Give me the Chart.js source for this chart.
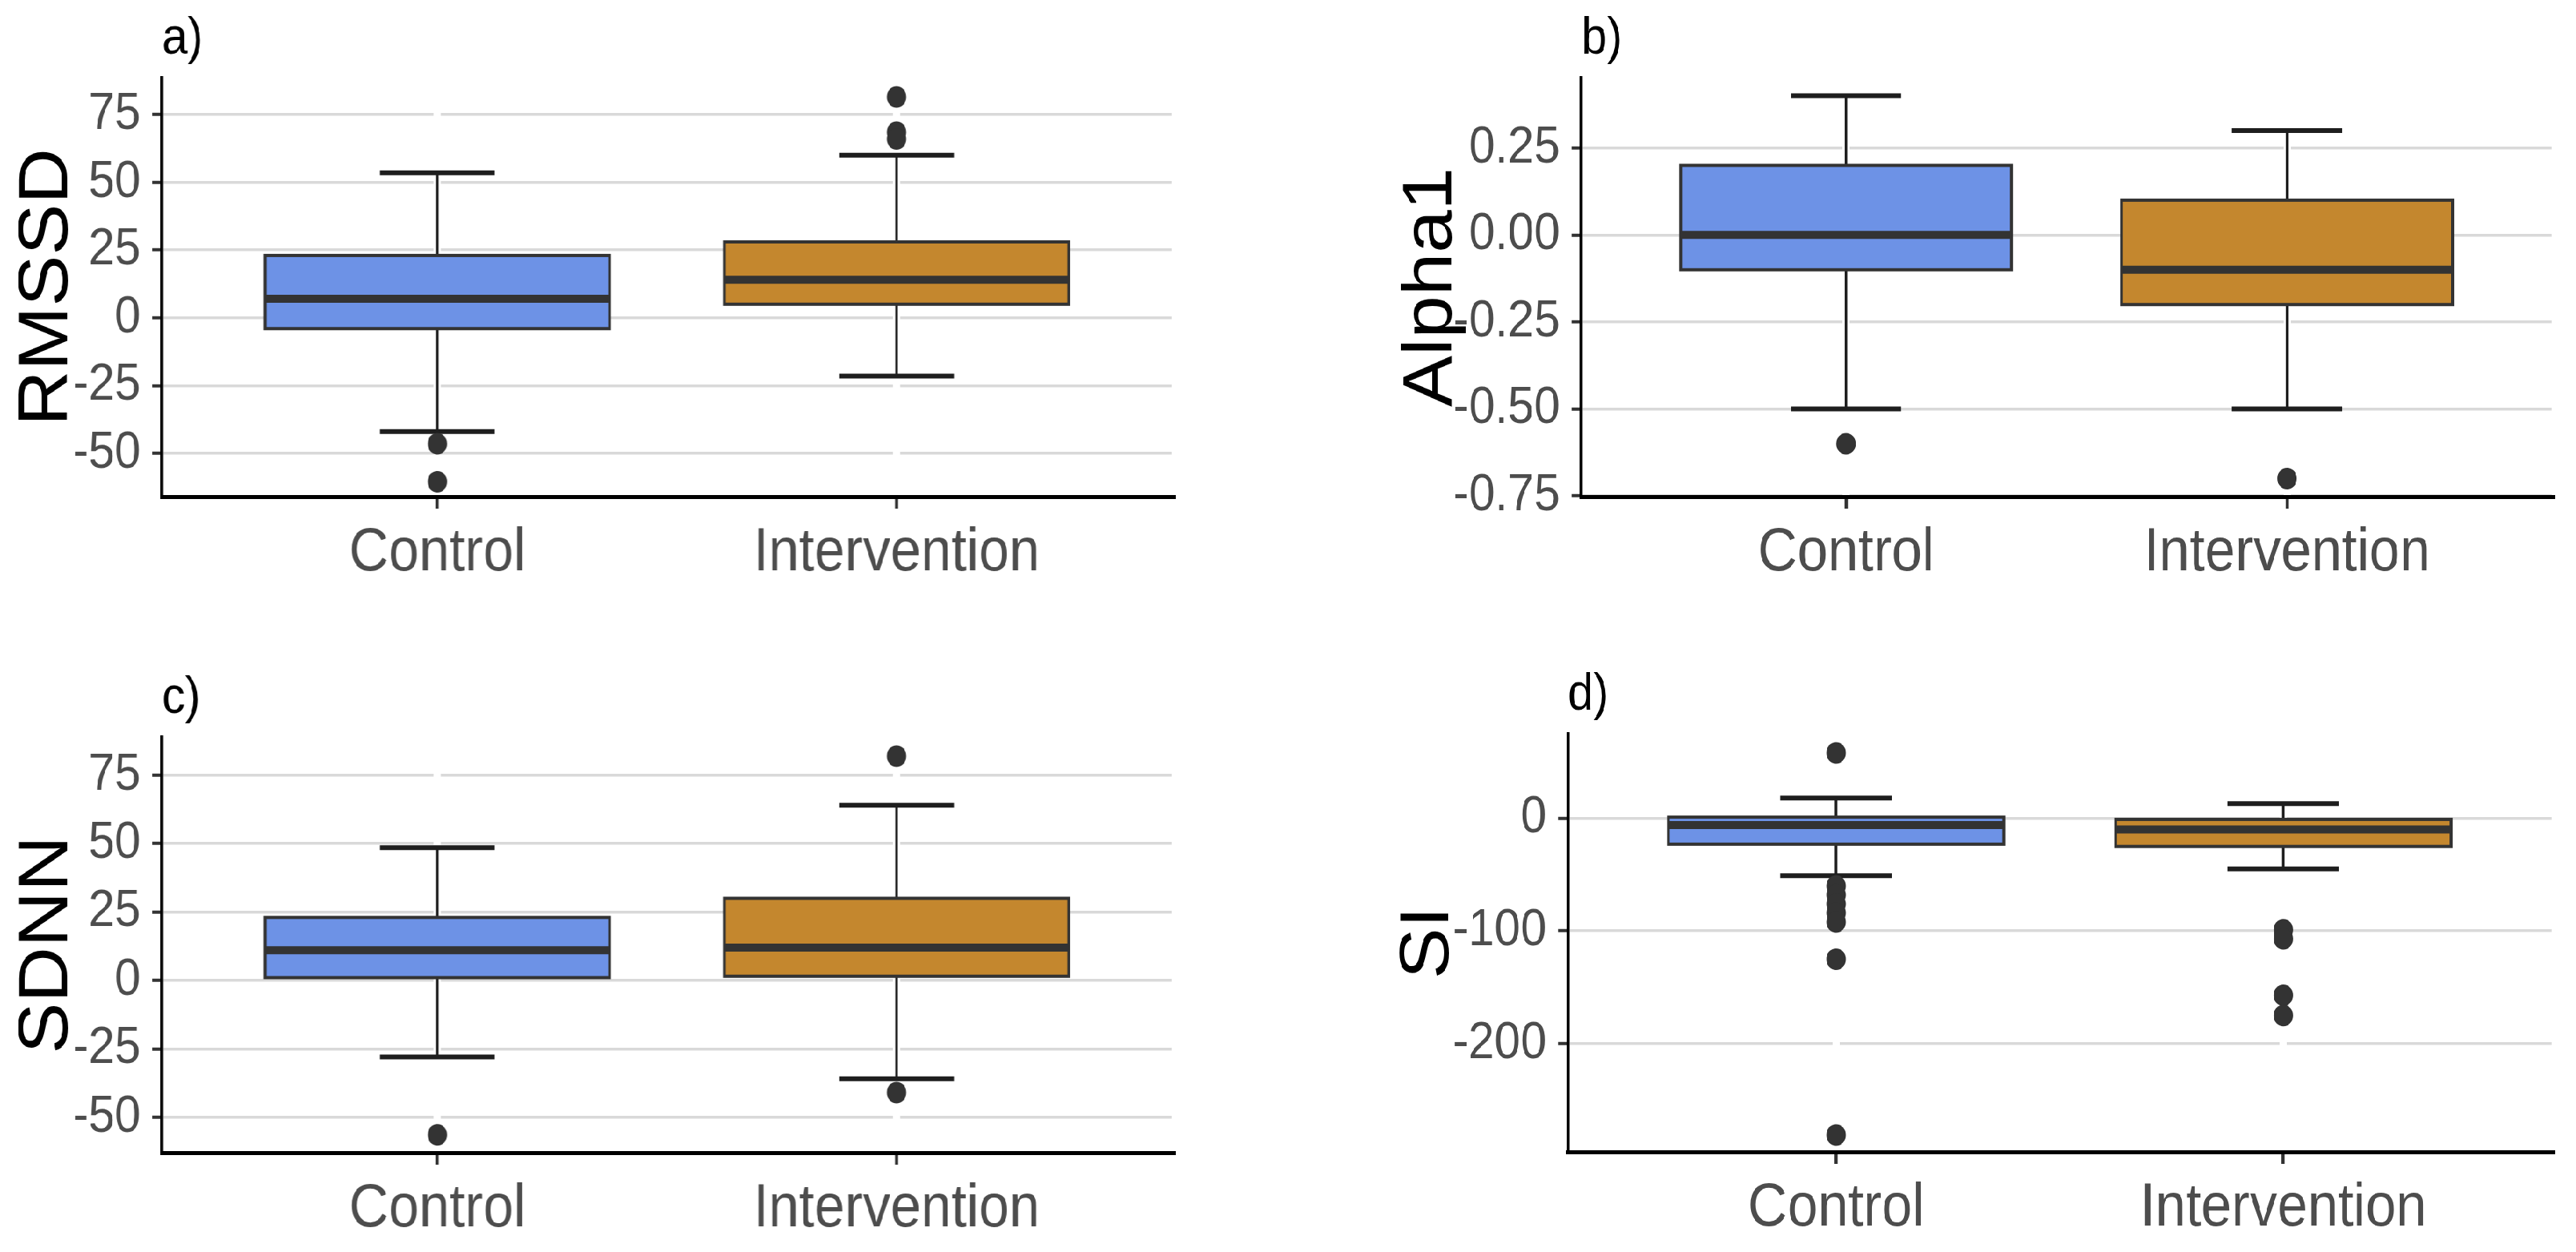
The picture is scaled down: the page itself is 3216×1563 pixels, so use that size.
<!DOCTYPE html>
<html>
<head>
<meta charset="utf-8">
<script src="https://cdn.jsdelivr.net/npm/chart.js@4.4.1/dist/chart.umd.min.js"></script>
<style>
  html, body { margin: 0; padding: 0; background: #ffffff; overflow: hidden; }
  #wrap { position: absolute; left: 0; top: 0; height: 1563px; transform-origin: 0 0; }
  .p { position: absolute; }
  canvas { display: block; }
</style>
</head>
<body>
<div id="wrap"></div>
<script>
// ---------- DATA ----------
const categories = ['Control', 'Intervention'];
// each stats array: [lower whisker, Q1, median, Q3, upper whisker]
const rmssdControl      = [-42, -4, 7, 23, 53.5];
const rmssdIntervention = [-21.5, 5, 14, 28, 60];
const rmssdControlOutliers      = [-46.5, -60.5];
const rmssdInterventionOutliers = [81.5, 68.5, 66];

const alphaControl      = [-0.5, -0.1, 0.0, 0.2, 0.4];
const alphaIntervention = [-0.5, -0.2, -0.1, 0.1, 0.3];
const alphaControlOutliers      = [-0.6];
const alphaInterventionOutliers = [-0.7];

const sdnnControl      = [-28, 1, 11, 23, 48.5];
const sdnnIntervention = [-36, 1.5, 12, 30, 64];
const sdnnControlOutliers      = [-56.5];
const sdnnInterventionOutliers = [82, -41];

const siControl      = [-51, -23, -6, 1, 18];
const siIntervention = [-45, -25, -10, -1, 13];
const siControlOutliers      = [58, -60, -68, -76, -84, -92, -125, -281];
const siInterventionOutliers = [-99, -107, -157, -175];

const rmssdTicks = [-50, -25, 0, 25, 50, 75];
const alphaTicks = [-0.75, -0.5, -0.25, 0, 0.25];
const sdnnTicks  = [-50, -25, 0, 25, 50, 75];
const siTicks    = [-200, -100, 0];

// ---------- STYLE / LAYOUT ----------
const S = 0.9;                    // horizontal squeeze of the reference figure
const FONT = "'Liberation Sans', Arial, Helvetica, sans-serif";
const fills = ['#6D92E6', '#C4872E'];
const BOX_W = 0.75, CAP_W = 0.25;

const panels = [
  { tag: 'a)', title: 'RMSSD',  x: 0,    y: 0,   w: 1608, h: 781, left: 202,  right: 1463, top: 97,  bottom: 620,  titleX: 60,
    min: -66, max: 88.6, ticks: rmssdTicks, dec: 0,
    stats: [rmssdControl, rmssdIntervention], outliers: [rmssdControlOutliers, rmssdInterventionOutliers] },
  { tag: 'b)', title: 'Alpha1', x: 1608, y: 0,   w: 1608, h: 781, left: 1974, right: 3186, top: 97,  bottom: 620,  titleX: 1788,
    min: -0.752, max: 0.452, ticks: alphaTicks, dec: 2,
    stats: [alphaControl, alphaIntervention], outliers: [alphaControlOutliers, alphaInterventionOutliers] },
  { tag: 'c)', title: 'SDNN',   x: 0,    y: 781, w: 1608, h: 782, left: 202,  right: 1463, top: 920, bottom: 1439, titleX: 60,
    min: -63, max: 89, ticks: sdnnTicks, dec: 0,
    stats: [sdnnControl, sdnnIntervention], outliers: [sdnnControlOutliers, sdnnInterventionOutliers] },
  { tag: 'd)', title: 'SI',     x: 1608, y: 781, w: 1608, h: 782, left: 1957, right: 3186, top: 916, bottom: 1438, titleX: 1784,
    min: -296, max: 75, ticks: siTicks, dec: 0,
    stats: [siControl, siIntervention], outliers: [siControlOutliers, siInterventionOutliers] }
];

const boxplotPlugin = {
  id: 'boxplot',
  beforeDatasetsDraw(chart, args, opts) {
    const { ctx, scales: { x, y } } = chart;
    ctx.save();
    opts.stats.forEach((s, i) => {
      const cx = x.getPixelForValue(i + 1);
      const half = x.getPixelForValue(i + 1 + BOX_W / 2) - cx;
      const capHalf = x.getPixelForValue(i + 1 + CAP_W / 2) - cx;
      const [lo, q1, med, q3, hi] = s.map(v => y.getPixelForValue(v));
      ctx.lineCap = 'butt';
      // whiskers
      ctx.strokeStyle = '#1e1e1e';
      ctx.lineWidth = 3.5;
      ctx.beginPath();
      ctx.moveTo(cx, q3); ctx.lineTo(cx, hi);
      ctx.moveTo(cx, q1); ctx.lineTo(cx, lo);
      ctx.stroke();
      // caps
      ctx.lineWidth = 6;
      ctx.beginPath();
      ctx.moveTo(cx - capHalf, hi); ctx.lineTo(cx + capHalf, hi);
      ctx.moveTo(cx - capHalf, lo); ctx.lineTo(cx + capHalf, lo);
      ctx.stroke();
      // box
      ctx.fillStyle = fills[i];
      ctx.fillRect(cx - half, q3, 2 * half, q1 - q3);
      ctx.strokeStyle = '#333333';
      ctx.lineWidth = 4;
      ctx.strokeRect(cx - half, q3, 2 * half, q1 - q3);
      // median
      ctx.lineWidth = 10;
      ctx.beginPath();
      ctx.moveTo(cx - half, med); ctx.lineTo(cx + half, med);
      ctx.stroke();
    });
    ctx.restore();
  },
  afterDraw(chart, args, opts) {
    const { ctx, chartArea } = chart;
    ctx.save();
    ctx.font = '64px ' + FONT;
    ctx.fillStyle = '#000000';
    ctx.textAlign = 'left';
    ctx.textBaseline = 'alphabetic';
    ctx.fillText(opts.tag, chartArea.left, chartArea.top - 30);
    ctx.restore();
  }
};

const wrap = document.getElementById('wrap');
wrap.style.width = (3216 / S) + 'px';
wrap.style.transform = 'scaleX(' + S + ')';

panels.forEach(p => {
  const div = document.createElement('div');
  div.className = 'p';
  div.style.left = (p.x / S) + 'px';
  div.style.top = p.y + 'px';
  const cv = document.createElement('canvas');
  const W = p.w / S;
  cv.width = W; cv.height = p.h;
  cv.style.width = W + 'px'; cv.style.height = p.h + 'px';
  div.appendChild(cv);
  wrap.appendChild(div);

  const yWidth = (p.left - p.x) / S;
  const padRight = (p.x + p.w - p.right) / S;
  const padTop = p.top - p.y;
  const xHeight = p.y + p.h - p.bottom;
  const titleSize = 96, titleLH = 1.2;
  const titlePad = (p.titleX - p.x) / S - titleSize * titleLH / 2;

  const pts = [];
  p.outliers.forEach((arr, i) => arr.forEach(v => pts.push({ x: i + 1, y: v })));

  new Chart(cv, {
    type: 'scatter',
    data: {
      datasets: [{
        data: pts,
        pointRadius: 13.5,
        pointHoverRadius: 13.5,
        pointBackgroundColor: '#333333',
        pointBorderWidth: 0,
        borderWidth: 0
      }]
    },
    options: {
      responsive: false,
      animation: false,
      devicePixelRatio: 1,
      events: [],
      layout: { autoPadding: false, padding: { left: 0, right: padRight, top: padTop, bottom: 0 } },
      plugins: {
        legend: { display: false },
        tooltip: { enabled: false },
        boxplot: { stats: p.stats, tag: p.tag }
      },
      scales: {
        x: {
          type: 'linear',
          min: 0.4, max: 2.6,
          afterBuildTicks: s => { s.ticks = categories.map((c, i) => ({ value: i + 1 })); },
          afterFit: s => { s.height = xHeight; },
          ticks: {
            callback: v => categories[Math.round(v) - 1],
            font: { family: FONT, size: 76, lineHeight: 1.2 },
            color: '#4D4D4D',
            padding: 10,
            maxRotation: 0,
            autoSkip: false
          },
          grid: {
            z: 0,
            color: '#ffffff',
            lineWidth: 10,
            drawTicks: true,
            tickLength: 15,
            tickColor: '#333333',
            tickWidth: 4.5
          },
          border: { display: true, color: '#000000', width: 5 }
        },
        y: {
          type: 'linear',
          min: p.min, max: p.max,
          afterBuildTicks: s => { s.ticks = p.ticks.map(v => ({ value: v })); },
          afterFit: s => { s.width = yWidth; },
          ticks: {
            callback: v => Number(v).toFixed(p.dec),
            font: { family: FONT, size: 65, lineHeight: 1.2 },
            color: '#4D4D4D',
            padding: 16,
            autoSkip: false
          },
          grid: {
            color: '#d9d9d9',
            lineWidth: 3.5,
            drawTicks: true,
            tickLength: 13.5,
            tickColor: '#333333',
            tickWidth: 4
          },
          border: { display: true, color: '#000000', width: 4.5 },
          title: {
            display: true,
            text: p.title,
            color: '#000000',
            font: { family: FONT, size: titleSize, lineHeight: titleLH },
            padding: { top: titlePad, bottom: 0 }
          }
        }
      }
    },
    plugins: [boxplotPlugin]
  });
});
</script>
</body>
</html>
